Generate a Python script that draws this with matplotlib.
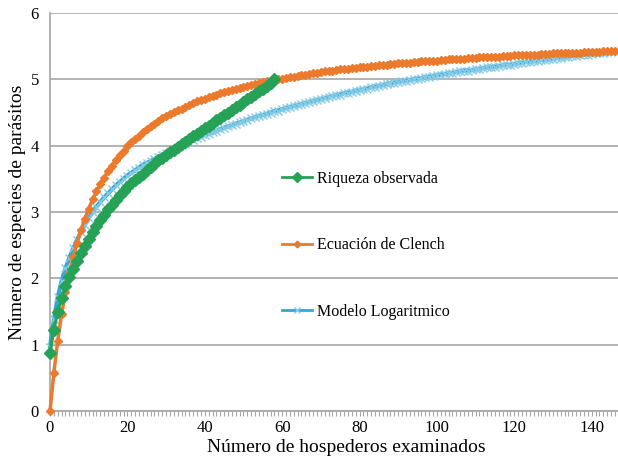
import matplotlib
matplotlib.use("Agg")
import matplotlib.pyplot as plt
from matplotlib.ticker import MultipleLocator

# species accumulation values (one value per host examined)
observada = [
    0.87, 1.22, 1.50, 1.71, 1.88, 2.02, 2.14, 2.26, 2.38, 2.49,
    2.60, 2.70, 2.79, 2.88, 2.96, 3.04, 3.11, 3.18, 3.25, 3.31,
    3.37, 3.43, 3.48, 3.53, 3.58, 3.63, 3.68, 3.73, 3.78, 3.82,
    3.86, 3.90, 3.94, 3.98, 4.02, 4.06, 4.10, 4.14, 4.18, 4.22,
    4.26, 4.30, 4.34, 4.38, 4.42, 4.46, 4.50, 4.54, 4.58, 4.62,
    4.66, 4.70, 4.74, 4.78, 4.82, 4.86, 4.90, 4.95, 5.00,
]

clench = [
    0.00, 0.58, 1.06, 1.46, 1.79, 2.08, 2.32, 2.54, 2.73, 2.90,
    3.05, 3.19, 3.31, 3.42, 3.52, 3.62, 3.70, 3.78, 3.86, 3.92,
    3.99, 4.05, 4.10, 4.15, 4.20, 4.25, 4.29, 4.33, 4.37, 4.41,
    4.44, 4.48, 4.51, 4.54, 4.56, 4.59, 4.62, 4.64, 4.67, 4.69,
    4.71, 4.73, 4.75, 4.77, 4.79, 4.81, 4.82, 4.84, 4.86, 4.87,
    4.89, 4.90, 4.92, 4.93, 4.94, 4.96, 4.97, 4.98, 4.99, 5.00,
    5.01, 5.02, 5.03, 5.04, 5.05, 5.06, 5.07, 5.08, 5.09, 5.10,
    5.11, 5.12, 5.12, 5.13, 5.14, 5.15, 5.15, 5.16, 5.17, 5.17,
    5.18, 5.19, 5.19, 5.20, 5.20, 5.21, 5.22, 5.22, 5.23, 5.23,
    5.24, 5.24, 5.25, 5.25, 5.26, 5.26, 5.27, 5.27, 5.28, 5.28,
    5.28, 5.29, 5.29, 5.30, 5.30, 5.31, 5.31, 5.31, 5.32, 5.32,
    5.32, 5.33, 5.33, 5.33, 5.34, 5.34, 5.34, 5.35, 5.35, 5.35,
    5.36, 5.36, 5.36, 5.37, 5.37, 5.37, 5.37, 5.38, 5.38, 5.38,
    5.39, 5.39, 5.39, 5.39, 5.40, 5.40, 5.40, 5.40, 5.41, 5.41,
    5.41, 5.41, 5.41, 5.42, 5.42, 5.42, 5.42,
]

logaritmico = [
    0.97, 1.38, 1.72, 1.96, 2.15, 2.31, 2.45, 2.58, 2.70, 2.81,
    2.91, 3.00, 3.08, 3.15, 3.22, 3.28, 3.34, 3.40, 3.45, 3.50,
    3.55, 3.59, 3.63, 3.67, 3.71, 3.74, 3.77, 3.80, 3.83, 3.86,
    3.89, 3.92, 3.95, 3.98, 4.01, 4.03, 4.06, 4.08, 4.11, 4.13,
    4.16, 4.18, 4.20, 4.22, 4.25, 4.27, 4.29, 4.31, 4.33, 4.35,
    4.37, 4.39, 4.41, 4.43, 4.45, 4.46, 4.48, 4.50, 4.52, 4.53,
    4.55, 4.57, 4.58, 4.60, 4.61, 4.63, 4.64, 4.66, 4.67, 4.69,
    4.70, 4.72, 4.73, 4.75, 4.76, 4.77, 4.79, 4.80, 4.81, 4.83,
    4.84, 4.85, 4.86, 4.88, 4.89, 4.90, 4.91, 4.93, 4.94, 4.95,
    4.96, 4.97, 4.98, 4.99, 5.00, 5.01, 5.02, 5.03, 5.04, 5.05,
    5.06, 5.07, 5.08, 5.09, 5.10, 5.11, 5.12, 5.13, 5.13, 5.14,
    5.15, 5.16, 5.17, 5.18, 5.18, 5.19, 5.20, 5.21, 5.22, 5.22,
    5.23, 5.24, 5.25, 5.26, 5.26, 5.27, 5.28, 5.29, 5.29, 5.30,
    5.31, 5.32, 5.32, 5.33, 5.34, 5.35, 5.35, 5.36, 5.37, 5.37,
    5.38, 5.39, 5.39, 5.40, 5.41, 5.41, 5.42,
]

x_ticks = [0, 20, 40, 60, 80, 100, 120, 140]
y_ticks = [0, 1, 2, 3, 4, 5, 6]

plt.rcParams['font.family'] = ['Liberation Serif', 'DejaVu Serif']

fig = plt.figure(figsize=(6.18, 4.58), dpi=100)
ax = fig.add_axes([50 / 618, 47 / 458, 568 / 618, 398 / 458])

hosts_obs = list(range(len(observada)))
hosts_cl = list(range(len(clench)))
hosts_log = list(range(len(logaritmico)))

l_log, = ax.plot(hosts_log, logaritmico, color='#35a6d1', lw=3.0, marker='x',
                 markersize=6, markeredgecolor='#86cbe6', markeredgewidth=1.0,
                 label='Modelo Logaritmico', clip_on=False, zorder=3)
l_cl, = ax.plot(hosts_cl, clench, color='#ec7a2c', lw=2.5, marker='D',
                markersize=4.3, label='Ecuación de Clench', clip_on=False, zorder=4)
l_obs, = ax.plot(hosts_obs, observada, color='#26a257', lw=2.2, marker='D',
                 markersize=6, label='Riqueza observada', clip_on=False, zorder=5)

ax.set_xlim(0, 146.8)
ax.set_ylim(0, 6)
ax.set_xticks(x_ticks)
ax.set_yticks(y_ticks)
ax.xaxis.set_minor_locator(MultipleLocator(1))

ax.grid(axis='y', color='#a6a6a6', lw=1.2)
ax.set_axisbelow(True)
for side in ['top', 'right']:
    ax.spines[side].set_visible(False)
for side in ['left', 'bottom']:
    ax.spines[side].set_color('#a6a6a6')
    ax.spines[side].set_linewidth(1.2)

ax.tick_params(axis='y', length=0, labelsize=12, pad=8)
ax.tick_params(axis='x', which='both', length=3.5, color='#a6a6a6', width=0.8,
               labelsize=12, pad=3)

ax.set_xlabel('Número de hospederos examinados', fontsize=14)
ax.set_ylabel('Número de especies de parásitos', fontsize=14)
ax.xaxis.set_label_coords(0.522, -0.07)
ax.yaxis.set_label_coords(-0.043, 0.5)

leg = ax.legend(handles=[l_obs, l_cl, l_log], loc='upper left',
                bbox_to_anchor=(0.408, 0.603), frameon=False, fontsize=11.5,
                handlelength=1.9, handletextpad=0.3, labelspacing=3.15,
                borderpad=0, borderaxespad=0, markerscale=0.8)
for line in leg.get_lines():
    line.set_linewidth(2.0)

plt.savefig('out.png', dpi=100)
